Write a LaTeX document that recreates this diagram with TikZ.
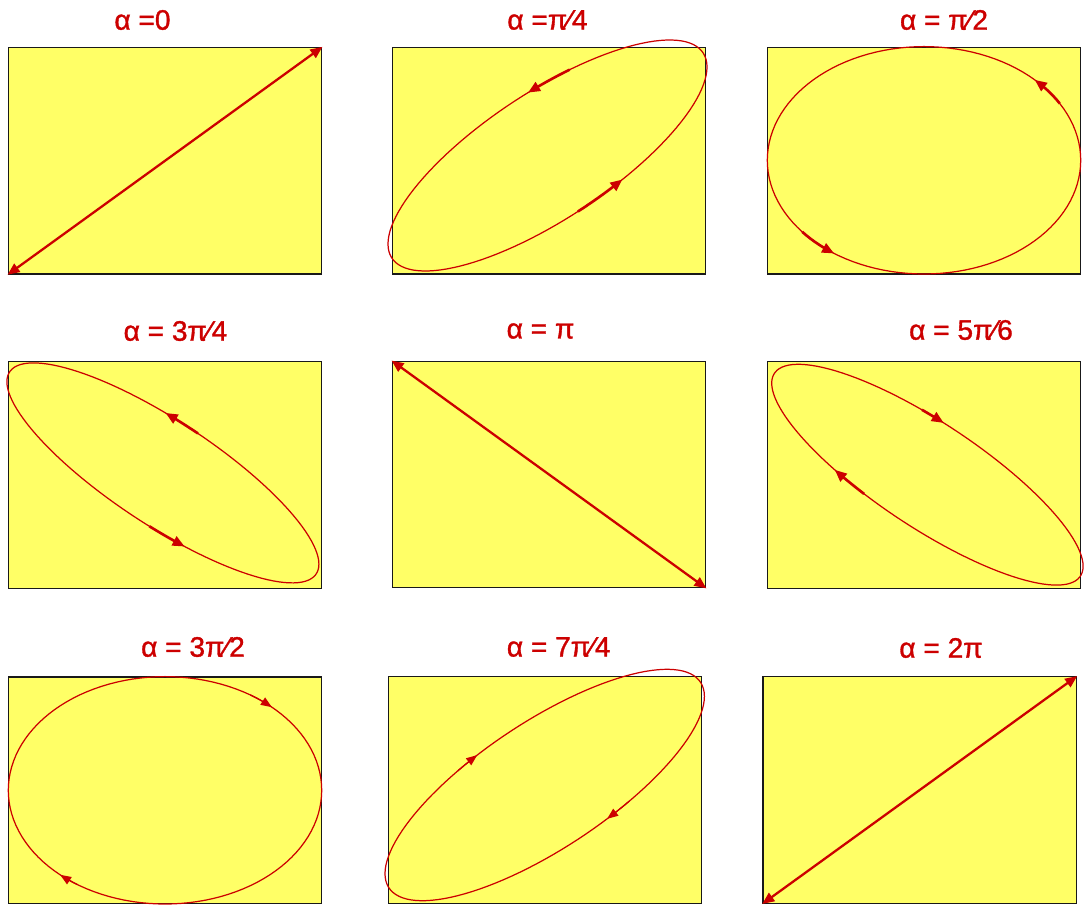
\documentclass[tikz,border=0pt]{standalone}
\usepackage{fontspec}
\setmainfont{Liberation Sans}
\newfontfamily\headfont{Liberation Sans}[FakeBold=1.2]
\usepackage{tikz}
\usetikzlibrary{arrows.meta, positioning}
\definecolor{myred}{RGB}{204,0,0}
\definecolor{myyellow}{RGB}{255,255,102}
\definecolor{mydark}{RGB}{25,25,25}
\tikzset{
  panel/.style={rectangle, draw=mydark, fill=myyellow, line width=0.8pt,
    minimum width=6.27cm, minimum height=4.53cm, inner sep=0pt},
  heading/.style={text=myred, font=\headfont\fontsize{16}{19}\selectfont, inner sep=0pt},
  orbit/.style={myred, line width=0.7pt},
  diag/.style={{Triangle[length=0.24cm, width=0.2cm]}-{Triangle[length=0.24cm, width=0.2cm]},
    myred, line width=1.3pt},
  sense/.style={-{Triangle[length=0.24cm, width=0.2cm]}, myred, line width=1.5pt},
  thinsense/.style={-{Triangle[length=0.22cm, width=0.17cm]}, myred, line width=0.7pt}
}

\begin{document}
\begin{tikzpicture}[x=0.02cm, y=-0.02cm]
  \useasboundingbox (0,0) rectangle (1084,905);

  % Row 1
  \node[panel] (p1) at (165,160.8) {};
  \node[panel] (p2) at (549,160.8) {};
  \node[panel] (p3) at (924,160.8) {};
  \node[heading] (t1) at (142.5,20) {α =0};
  \node[heading] (t2) at (547.5,20) {α =π⁄4};
  \node[heading] (t3) at (944,20) {α = π⁄2};

  \draw[diag] (p1.south west) -- (p1.north east);

  \draw[orbit, shift={(547.5,155.5)}] plot[domain=0:360, samples=121] ({159.5*cos(\x)}, {-115.5*cos(\x-40)});
  \draw[sense, shift={(547.5,155.5)}] plot[domain=82:97, samples=8] ({159.5*cos(\x)}, {-115.5*cos(\x-40)});
  \draw[sense, shift={(547.5,155.5)}] plot[domain=281:298, samples=8] ({159.5*cos(\x)}, {-115.5*cos(\x-40)});

  \draw[orbit, shift={(924,160.3)}] plot[domain=0:360, samples=121] ({156.7*cos(\x)}, {-113.7*cos(\x-90)});
  \draw[sense, shift={(924,160.3)}] plot[domain=30:45, samples=8] ({156.7*cos(\x)}, {-113.7*cos(\x-90)});
  \draw[sense, shift={(924,160.3)}] plot[domain=219:235, samples=8] ({156.7*cos(\x)}, {-113.7*cos(\x-90)});

  % Row 2
  \node[panel] (p4) at (165,475) {};
  \node[panel] (p5) at (549,474.5) {};
  \node[panel] (p6) at (924,475) {};
  \node[heading] (t4) at (175.5,331) {α = 3π⁄4};
  \node[heading] (t5) at (540.5,331) {α = π};
  \node[heading] (t6) at (961,330) {α = 5π⁄6};

  \draw[orbit, shift={(162.9,472.9)}] plot[domain=0:360, samples=121] ({156*cos(\x)}, {-110*cos(\x-146)});
  \draw[sense, shift={(162.9,472.9)}] plot[domain=77:89, samples=8] ({156*cos(\x)}, {-110*cos(\x-146)});
  \draw[sense, shift={(162.9,472.9)}] plot[domain=265:278, samples=8] ({156*cos(\x)}, {-110*cos(\x-146)});

  \draw[diag] (p5.north west) -- (p5.south east);

  \draw[orbit, shift={(927.4,474.7)}] plot[domain=0:360, samples=121] ({155.7*cos(\x)}, {-110.4*cos(\x-146)});
  \draw[sense, shift={(927.4,474.7)}] plot[domain=92:84, samples=8] ({155.7*cos(\x)}, {-110.4*cos(\x-146)});
  \draw[sense, shift={(927.4,474.7)}] plot[domain=246:233.5, samples=8] ({155.7*cos(\x)}, {-110.4*cos(\x-146)});

  % Row 3
  \node[panel] (p7) at (165,790.3) {};
  \node[panel] (p8) at (545,790) {};
  \node[panel] (p9) at (919.7,790) {};
  \node[heading] (t7) at (193,647) {α = 3π⁄2};
  \node[heading] (t8) at (558.7,647) {α = 7π⁄4};
  \node[heading] (t9) at (941,648) {α = 2π};

  \draw[orbit, shift={(165,790.3)}] plot[domain=0:360, samples=121] ({156.7*cos(\x)}, {-113.7*cos(\x+90)});
  \draw[thinsense, shift={(165,790.3)}] plot[domain=-57:-47, samples=8] ({156.7*cos(\x)}, {-113.7*cos(\x+90)});
  \draw[thinsense, shift={(165,790.3)}] plot[domain=124:132, samples=8] ({156.7*cos(\x)}, {-113.7*cos(\x+90)});

  \draw[orbit, shift={(544.7,785)}] plot[domain=0:360, samples=121] ({159.7*cos(\x)}, {-115.7*cos(\x+40)});
  \draw[thinsense, shift={(544.7,785)}] plot[domain=237:245, samples=8] ({159.7*cos(\x)}, {-115.7*cos(\x+40)});
  \draw[thinsense, shift={(544.7,785)}] plot[domain=58:67, samples=8] ({159.7*cos(\x)}, {-115.7*cos(\x+40)});

  \draw[diag] (p9.south west) -- (p9.north east);
\end{tikzpicture}
\end{document}
